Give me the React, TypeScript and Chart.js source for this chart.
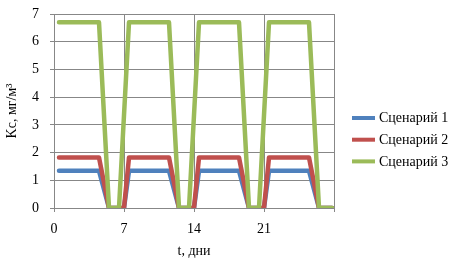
import React, { useEffect, useRef } from "react";
import { Chart, registerables } from "chart.js";

Chart.register(...registerables);

// ---- data ----
const seriesLabels = ["Сценарий 1", "Сценарий 2", "Сценарий 3"];
const seriesColors = ["#4F81BD", "#C0504D", "#9BBB59"];

// time points (days) for scenarios 1 and 2
const tLow = [0.5, 4.5, 5.5, 7, 7.5, 11.5, 12.5, 14, 14.5, 18.5, 19.5, 21, 21.5, 25.5, 26.5, 27.8];
// time points (days) for scenario 3
const tHigh = [0.5, 4.5, 5.5, 6.5, 7.5, 11.5, 12.5, 13.5, 14.5, 18.5, 19.5, 20.5, 21.5, 25.5, 26.5, 27.8];

const kc1 = [1.34, 1.34, 0, 0, 1.34, 1.34, 0, 0, 1.34, 1.34, 0, 0, 1.34, 1.34, 0, 0];
const kc2 = [1.82, 1.82, 0, 0, 1.82, 1.82, 0, 0, 1.82, 1.82, 0, 0, 1.82, 1.82, 0, 0];
const kc3 = [6.7, 6.7, 0, 0, 6.7, 6.7, 0, 0, 6.7, 6.7, 0, 0, 6.7, 6.7, 0, 0];

const xTicks = [0, 7, 14, 21];
const yTicks = [0, 1, 2, 3, 4, 5, 6, 7];

const FONT = "'Liberation Serif', 'Times New Roman', serif";

const toPoints = (ts: number[], vs: number[]) => ts.map((t, i) => ({ x: t, y: vs[i] }));

const legendPlugin = {
  id: "sideLegend",
  afterDraw(chart: any) {
    const ctx = chart.ctx;
    const area = chart.chartArea;
    const x0 = area.right + 18;
    const y0 = 118;
    const step = 21.7;
    ctx.save();
    chart.data.datasets.forEach((ds: any, i: number) => {
      const y = y0 + i * step;
      ctx.strokeStyle = ds.borderColor;
      ctx.lineWidth = 4;
      ctx.lineCap = "butt";
      ctx.beginPath();
      ctx.moveTo(x0, y);
      ctx.lineTo(x0 + 23, y);
      ctx.stroke();
      ctx.fillStyle = "#000";
      ctx.font = `14px ${FONT}`;
      ctx.textBaseline = "middle";
      ctx.textAlign = "left";
      ctx.fillText(ds.label, x0 + 27, y + 0.5);
    });
    ctx.restore();
  },
};

export default function App() {
  const ref = useRef<HTMLCanvasElement | null>(null);

  useEffect(() => {
    if (!ref.current) return;
    const gridColor = "#878787";
    const datasets = [
      { label: seriesLabels[0], data: toPoints(tLow, kc1), borderColor: seriesColors[0], order: 3 },
      { label: seriesLabels[1], data: toPoints(tLow, kc2), borderColor: seriesColors[1], order: 2 },
      { label: seriesLabels[2], data: toPoints(tHigh, kc3), borderColor: seriesColors[2], order: 1 },
    ].map((d) => ({
      ...d,
      backgroundColor: d.borderColor,
      borderWidth: 4.5,
      pointRadius: 0,
      borderJoinStyle: "round" as const,
      borderCapStyle: "round" as const,
      tension: 0,
      fill: false,
    }));

    const chart = new Chart(ref.current, {
      type: "line",
      data: { datasets },
      plugins: [legendPlugin],
      options: {
        animation: false,
        responsive: false,
        devicePixelRatio: 1,
        layout: { padding: { top: 14, right: 124, left: 0, bottom: 0 } },
        plugins: { legend: { display: false }, tooltip: { enabled: false } },
        scales: {
          x: {
            type: "linear",
            min: 0,
            max: 28,
            afterBuildTicks(scale: any) {
              scale.ticks = [...xTicks, 28].map((v) => ({ value: v }));
            },
            afterFit(scale: any) {
              scale.height = 57;
              scale.paddingLeft = 0;
              scale.paddingRight = 0;
            },
            ticks: {
              autoSkip: false,
              maxRotation: 0,
              padding: 9,
              color: "#000",
              font: { family: FONT, size: 14 },
              callback: (v: any) => (xTicks.includes(Number(v)) ? String(v) : ""),
            },
            grid: { color: gridColor, lineWidth: 1, tickLength: 4, drawTicks: true },
            border: { color: gridColor, width: 1 },
            title: {
              display: true,
              text: "t, дни",
              color: "#000",
              font: { family: FONT, size: 14 },
              padding: { top: 0, bottom: 5 },
            },
          },
          y: {
            type: "linear",
            min: 0,
            max: 7,
            afterBuildTicks(scale: any) {
              scale.ticks = yTicks.map((v) => ({ value: v }));
            },
            afterFit(scale: any) {
              scale.width = 54;
              scale.paddingTop = 0;
              scale.paddingBottom = 0;
            },
            ticks: {
              padding: 11,
              color: "#000",
              font: { family: FONT, size: 14 },
            },
            grid: { color: gridColor, lineWidth: 1, tickLength: 4, drawTicks: true },
            border: { color: gridColor, width: 1 },
            title: {
              display: true,
              text: "Kс, мг/м³",
              color: "#000",
              font: { family: FONT, size: 14 },
              padding: { top: 4, bottom: 0 },
            },
          },
        },
      },
    });
    return () => chart.destroy();
  }, []);

  return (
    <div style={{ position: "absolute", left: 0, top: 0, width: 458, height: 265, background: "#fff" }}>
      <canvas ref={ref} width={458} height={265} />
    </div>
  );
}
